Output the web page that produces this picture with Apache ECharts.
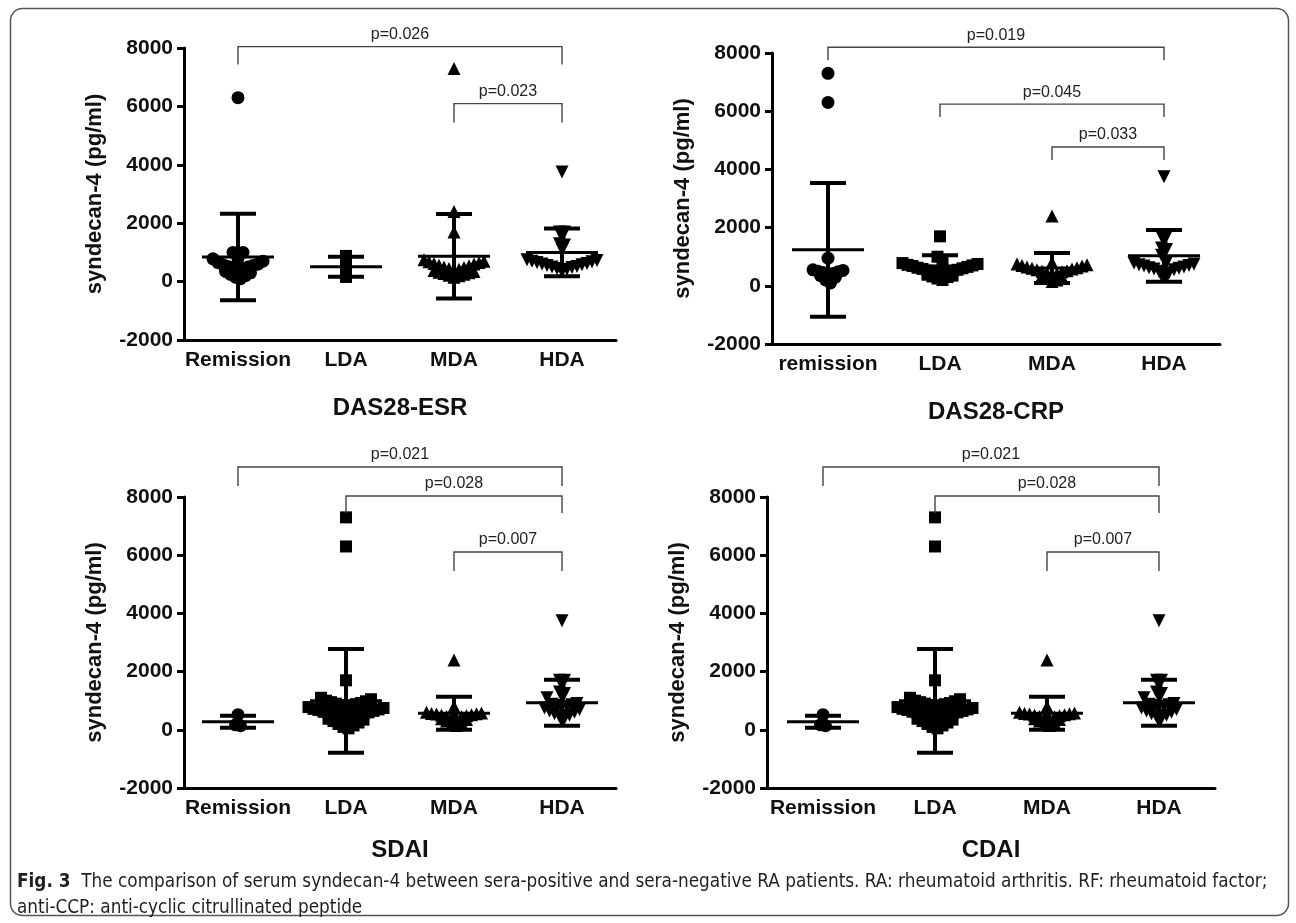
<!DOCTYPE html>
<html>
<head>
<meta charset="utf-8">
<script src="https://cdn.jsdelivr.net/npm/echarts@6/dist/echarts.min.js"></script>
<style>
  html, body { margin: 0; padding: 0; background: #fff; }
  #chart { width: 1296px; height: 923px; }
</style>
</head>
<body>
<div id="chart"></div>
<script>
// categories / titles
var catsA = ['Remission', 'LDA', 'MDA', 'HDA'];
var catsB = ['remission', 'LDA', 'MDA', 'HDA'];
var axisTitles = ['DAS28-ESR', 'DAS28-CRP', 'SDAI', 'CDAI'];
var yName = 'syndecan-4 (pg/ml)';

// DAS28-ESR (pg/ml)
var esrRemission = [6300, 1000, 1000, 800, 780, 700, 650, 600, 580, 550, 520, 500, 480, 450, 400, 350, 300, 250, 200, 150, 100];
var esrLDA = [880, 540, 160];
var esrMDA = [7300, 2400, 1700, 750, 700, 680, 650, 620, 600, 560, 540, 500, 480, 450, 420, 400, 380, 350, 320, 300, 280, 250, 220, 200, 150];
var esrHDA = [3750, 1700, 1700, 1300, 1250, 1100, 750, 720, 700, 680, 650, 620, 600, 580, 550, 520, 500, 480, 450, 420, 400, 350];
var esrMean = [840, 510, 869, 1000];
var esrSd = [1480, 340, 1449, 820];
var esrBrackets = [[0, 3, 8048, 7432, 'p=0.026'], [2, 3, 6096, 5445, 'p=0.023']];

// DAS28-CRP
var crpRemission = [7300, 6300, 950, 550, 530, 500, 480, 460, 420, 400, 350, 300, 200, 100];
var crpLDA = [1700, 1000, 800, 780, 750, 720, 700, 680, 650, 620, 600, 580, 550, 520, 500, 480, 450, 420, 400, 380, 350, 320, 300, 250, 200];
var crpMDA = [2400, 800, 750, 720, 700, 680, 650, 620, 600, 580, 550, 520, 500, 480, 450, 420, 400, 350, 300, 250, 200, 150];
var crpHDA = [3750, 1700, 1700, 1300, 1250, 1050, 800, 780, 750, 720, 700, 680, 650, 620, 600, 580, 550, 500, 450, 400, 350, 300];
var crpMean = [1235, 680, 615, 1030];
var crpSd = [2295, 370, 515, 890];
var crpBrackets = [[0, 3, 8199, 7753, 'p=0.019'], [1, 3, 6244, 5798, 'p=0.045'], [2, 3, 4768, 4322, 'p=0.033']];

// SDAI
var sdaiRemission = [520, 170, 140];
var sdaiLDA = [7300, 6300, 1700, 1100, 1050, 1000, 980, 950, 920, 900, 880, 850, 820, 800, 780, 750, 720, 700, 680, 650, 620, 600, 580, 550, 520, 500, 480, 450, 420, 400, 380, 350, 300, 250, 200, 150, 100, 50];
var sdaiMDA = [2400, 800, 600, 580, 560, 550, 540, 520, 500, 480, 460, 450, 420, 400, 380, 350, 300, 250, 200, 150];
var sdaiHDA = [3750, 1700, 1700, 1300, 1250, 1100, 900, 880, 860, 840, 820, 800, 750, 700, 650, 600, 550, 500, 450, 400, 350];
var sdaiMean = [275, 995, 570, 930];
var sdaiSd = [205, 1785, 565, 790];
var sdaiBrackets = [[0, 3, 9030, 8378, 'p=0.021'], [1, 3, 8034, 7451, 'p=0.028'], [2, 3, 6112, 5459, 'p=0.007']];

// CDAI
var cdaiRemission = [520, 170, 140];
var cdaiLDA = [7300, 6300, 1700, 1100, 1050, 1000, 980, 950, 920, 900, 880, 850, 820, 800, 780, 750, 720, 700, 680, 650, 620, 600, 580, 550, 520, 500, 480, 450, 420, 400, 380, 350, 300, 250, 200, 150, 100, 50];
var cdaiMDA = [2400, 800, 600, 580, 560, 550, 540, 520, 500, 480, 460, 450, 420, 400, 380, 350, 300, 250, 200, 150];
var cdaiHDA = [3750, 1700, 1700, 1300, 1250, 1100, 900, 880, 860, 840, 820, 800, 750, 700, 650, 600, 550, 500, 450, 400, 350];
var cdaiMean = [275, 995, 570, 930];
var cdaiSd = [205, 1785, 565, 790];
var cdaiBrackets = [[0, 3, 9030, 8378, 'p=0.021'], [1, 3, 8034, 7451, 'p=0.028'], [2, 3, 6112, 5459, 'p=0.007']];

var yTicks = { min: -2000, max: 8000, interval: 2000 };

var panels = [
  { cats: catsA, groups: [esrRemission, esrLDA, esrMDA, esrHDA], mean: esrMean, sd: esrSd, br: esrBrackets },
  { cats: catsB, groups: [crpRemission, crpLDA, crpMDA, crpHDA], mean: crpMean, sd: crpSd, br: crpBrackets },
  { cats: catsA, groups: [sdaiRemission, sdaiLDA, sdaiMDA, sdaiHDA], mean: sdaiMean, sd: sdaiSd, br: sdaiBrackets },
  { cats: catsA, groups: [cdaiRemission, cdaiLDA, cdaiMDA, cdaiHDA], mean: cdaiMean, sd: cdaiSd, br: cdaiBrackets }
];

// layout
var grids = [
  { left: 184, top: 48, width: 432, height: 292 },
  { left: 772, top: 53, width: 448, height: 291 },
  { left: 184, top: 497, width: 432, height: 291 },
  { left: 767, top: 497, width: 448, height: 291 }
];
var xNameGap = [56, 56, 50, 50];
var symbols = ['circle', 'rect', 'triangle', 'triangle'];
var symbolRot = [0, 0, 0, 180];
var symbolSz = [13, 12, 13, 13];
var FONT = '"Liberation Sans", Arial, sans-serif';
var CAPFONT = '"DejaVu Sans Condensed", "Liberation Sans Narrow", Roboto, sans-serif';

// prism-like scatter spread: rows by value bin, lowest in the middle
function spread(vals, binSize, stepPx, pxPerUnit) {
  var offs = vals.map(function () { return 0; });
  var bins = {};
  vals.forEach(function (v, i) {
    var k = Math.floor(v / binSize);
    (bins[k] = bins[k] || []).push(i);
  });
  Object.keys(bins).forEach(function (k) {
    var idx = bins[k].sort(function (a, b) { return vals[a] - vals[b]; });
    var n = idx.length;
    idx.forEach(function (id, j) {
      var slot = n % 2 ? Math.ceil(j / 2) * (j % 2 ? 1 : -1)
                       : (Math.floor(j / 2) + 0.5) * (j % 2 ? -1 : 1);
      offs[id] = slot * stepPx / pxPerUnit;
    });
  });
  return offs;
}

var chart = echarts.init(document.getElementById('chart'), null, { renderer: 'canvas' });

var option = {
  animation: false,
  backgroundColor: '#fff',
  title: {
    left: 12, top: 864,
    text: '{b|Fig. 3}  The comparison of serum syndecan-4 between sera-positive and sera-negative RA patients. RA: rheumatoid arthritis. RF: rheumatoid factor;\nanti-CCP: anti-cyclic citrullinated peptide',
    textStyle: {
      fontFamily: CAPFONT, fontSize: 18.8, fontWeight: 'normal', color: '#231f20', lineHeight: 26,
      rich: { b: { fontWeight: 'bold', fontSize: 18.8, color: '#231f20', fontFamily: CAPFONT } }
    }
  },
  graphic: [{
    type: 'rect', silent: true,
    shape: { x: 10.5, y: 8.5, width: 1278, height: 907, r: 12 },
    style: { fill: null, stroke: '#555', lineWidth: 1.5 }
  }],
  grid: [], xAxis: [], yAxis: [], series: []
};

panels.forEach(function (p, i) {
  var g = grids[i];
  option.grid.push({ left: g.left, top: g.top, width: g.width, height: g.height, containLabel: false, outerBoundsMode: 'none' });
  // visible category axis
  option.xAxis.push({
    gridIndex: i, type: 'category', data: p.cats, boundaryGap: true, position: 'bottom',
    name: axisTitles[i], nameLocation: 'middle', nameGap: xNameGap[i],
    nameTextStyle: { fontFamily: FONT, fontSize: 24, fontWeight: 'bold', color: '#111' },
    axisLine: { onZero: false, lineStyle: { color: '#000', width: 3 } },
    axisTick: { alignWithLabel: true, length: 7, lineStyle: { color: '#000', width: 3 } },
    axisLabel: { interval: 0, margin: 10, fontFamily: FONT, fontSize: 21, fontWeight: 'bold', color: '#111' },
    splitLine: { show: false }
  });
  // hidden value axis used to place the marks
  option.xAxis.push({ gridIndex: i, type: 'value', min: -0.5, max: 3.5, show: false });
  option.yAxis.push({
    gridIndex: i, type: 'value', min: yTicks.min, max: yTicks.max, interval: yTicks.interval,
    name: yName, nameLocation: 'middle', nameGap: 78,
    nameTextStyle: { fontFamily: FONT, fontSize: 22, fontWeight: 'bold', color: '#111' },
    axisLine: { show: true, onZero: false, lineStyle: { color: '#000', width: 3 } },
    axisTick: { show: true, length: 7, lineStyle: { color: '#000', width: 3 } },
    axisLabel: { margin: 11, fontFamily: FONT, fontSize: 21, fontWeight: 'bold', color: '#111',
      formatter: function (v) { return String(v); } },
    splitLine: { show: false }
  });

  var pxPerUnit = g.width / 4;
  p.groups.forEach(function (vals, ci) {
    var offs = spread(vals, 400, 5, pxPerUnit);
    option.series.push({
      type: 'scatter', xAxisIndex: i * 2 + 1, yAxisIndex: i, clip: false, z: 2,
      symbol: symbols[ci], symbolRotate: symbolRot[ci], symbolSize: symbolSz[ci],
      itemStyle: { color: '#000', opacity: 1 },
      data: vals.map(function (v, k) { return [ci + offs[k], v]; })
    });
  });

  // mean +/- SD
  option.series.push({
    type: 'custom', xAxisIndex: i * 2 + 1, yAxisIndex: i, z: 5,
    data: p.mean.map(function (m, ci) { return [ci, m, p.sd[ci]]; }),
    renderItem: function (params, api) {
      var c = api.coord([api.value(0), api.value(1)]);
      var t = api.coord([api.value(0), api.value(1) + api.value(2)]);
      var b = api.coord([api.value(0), api.value(1) - api.value(2)]);
      var st = { stroke: '#000', lineWidth: 4 };
      return { type: 'group', children: [
        { type: 'line', shape: { x1: c[0] - 36, y1: c[1], x2: c[0] + 36, y2: c[1] }, style: { stroke: '#000', lineWidth: 3 } },
        { type: 'line', shape: { x1: c[0], y1: t[1], x2: c[0], y2: b[1] }, style: st },
        { type: 'line', shape: { x1: c[0] - 18, y1: t[1], x2: c[0] + 18, y2: t[1] }, style: st },
        { type: 'line', shape: { x1: c[0] - 18, y1: b[1], x2: c[0] + 18, y2: b[1] }, style: st }
      ] };
    }
  });

  // significance brackets
  option.series.push({
    type: 'custom', xAxisIndex: i * 2 + 1, yAxisIndex: i, z: 6, clip: false,
    data: p.br.map(function (b) { return b.slice(0, 4); }),
    renderItem: function (params, api) {
      var b = p.br[params.dataIndex];
      var l0 = api.coord([b[0], b[3]]), l1 = api.coord([b[0], b[2]]);
      var r1 = api.coord([b[1], b[2]]), r0 = api.coord([b[1], b[3]]);
      return { type: 'group', children: [
        { type: 'polyline', shape: { points: [l0, l1, r1, r0] }, style: { stroke: '#444', lineWidth: 1.4, fill: null } },
        { type: 'text', x: (l1[0] + r1[0]) / 2, y: l1[1] - 4,
          style: { text: b[4], fill: '#222', font: '16px ' + FONT, align: 'center', verticalAlign: 'bottom' } }
      ] };
    }
  });
});

chart.setOption(option);
</script>
</body>
</html>
